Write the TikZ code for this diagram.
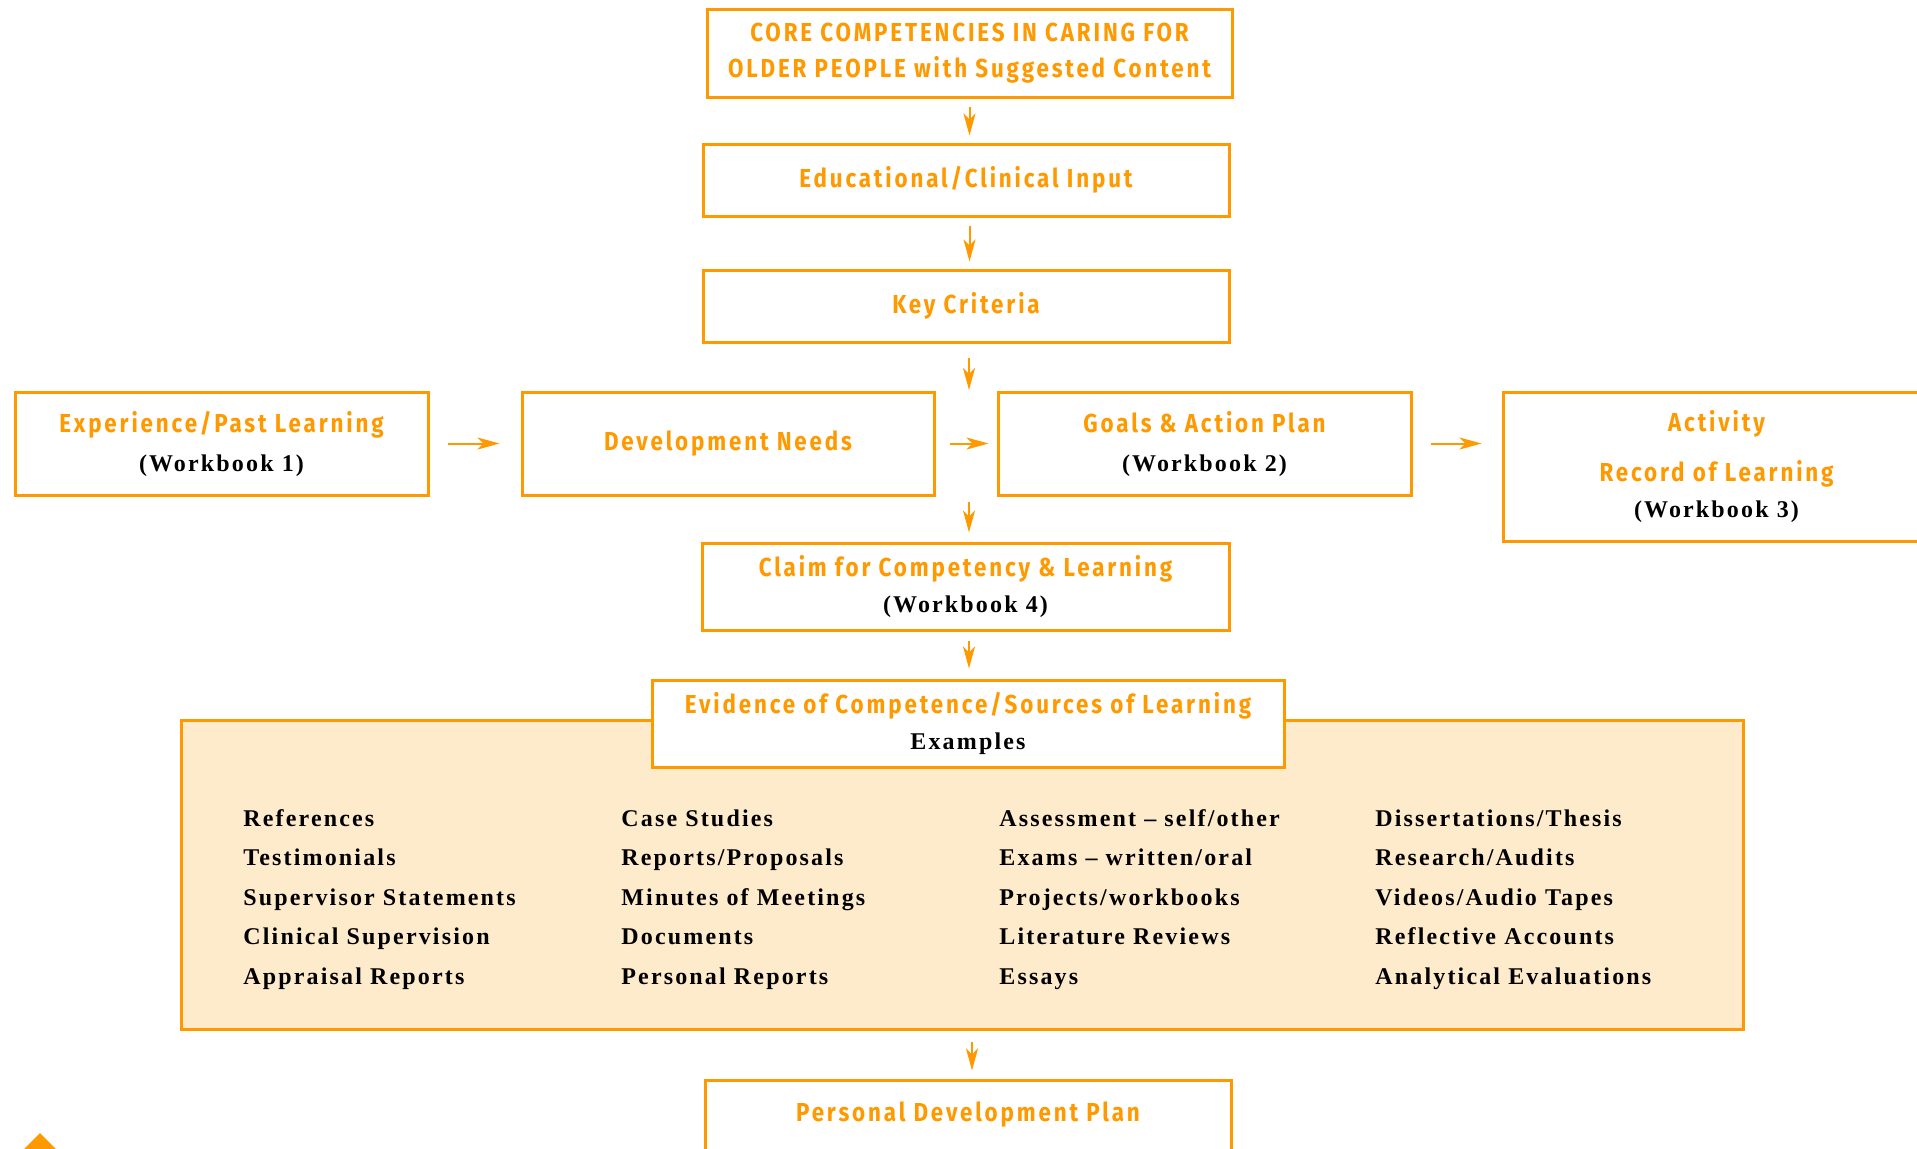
\documentclass[tikz,border=0pt]{standalone}
\usepackage{fontspec}
\usetikzlibrary{arrows.meta,positioning}
\newfontfamily\orgfont{Fira Sans}[FakeStretch=0.86,LetterSpace=11]
\newfontfamily\blkfont{Liberation Serif}[LetterSpace=9]
\definecolor{org}{RGB}{255,153,0}
\definecolor{cream}{RGB}{254,235,204}
\newcommand{\wbtext}[1]{{\blkfont\bfseries\fontsize{12}{18}\selectfont\color{black}#1}}

\begin{document}
\begin{tikzpicture}[x=0.5pt, y=-0.5pt,
                    box/.style = {draw=org, line width=1.5pt, fill=white, align=center, inner sep=0pt,
                                  text=org, font=\orgfont\bfseries\fontsize{13}{18}\selectfont},
                    items/.style = {anchor=base west, align=left, inner sep=0pt,
                                    font=\blkfont\bfseries\fontsize{12}{19.75}\selectfont},
                    flow/.style = {draw=org, line width=1pt, -{Stealth[length=11pt,width=6pt,inset=3pt]}}]
\useasboundingbox (0,0) rectangle (1917,1148);
\clip (0,0) rectangle (1917,1148);
% top column
\node[box, minimum width=262.5pt, minimum height=44pt] (core) at (969.5,53)
  {CORE COMPETENCIES IN CARING FOR\\OLDER PEOPLE with Suggested Content};
\node[box, minimum width=263pt, minimum height=36pt] (input) at (966,180) {Educational/Clinical Input};
\node[box, minimum width=263pt, minimum height=36pt] (criteria) at (966,306) {Key Criteria};
% middle row
\node[box, minimum width=206.5pt, minimum height=51.5pt] (exper) at (221.5,443.5)
  {Experience/Past Learning\\[1.5pt]\wbtext{(Workbook 1)}};
\node[box, minimum width=206pt, minimum height=51.5pt] (needs) at (728,443.5) {Development Needs};
\node[box, minimum width=206.5pt, minimum height=51.5pt] (goals) at (1204.5,443.5)
  {Goals \& Action Plan\\[1.5pt]\wbtext{(Workbook 2)}};
\node[box, minimum width=213.5pt, minimum height=74.5pt] (activity) at (1716.5,466.5)
  {Activity\\[7pt]Record of Learning\\\wbtext{(Workbook 3)}};
\coordinate (gaptop) at (969,390);
\coordinate (gapbot) at (969,502);
% lower column
\node[box, minimum width=263.5pt, minimum height=43.5pt] (claim) at (965.5,586.5)
  {Claim for Competency \& Learning\\\wbtext{(Workbook 4)}};
\node[draw=org, line width=1.5pt, fill=cream, minimum width=781pt, minimum height=154.5pt] (examples) at (962,874.5) {};
\node[box, minimum width=316pt, minimum height=43.5pt] (evid) at (968,723.5)
  {Evidence of Competence/Sources of Learning\\\wbtext{Examples}};
\node[items] (col1) at (243,984) {References\\Testimonials\\Supervisor Statements\\Clinical Supervision\\Appraisal Reports};
\node[items] (col2) at (621,984) {Case Studies\\Reports/Proposals\\Minutes of Meetings\\Documents\\Personal Reports};
\node[items] (col3) at (999,984) {Assessment – self/other\\Exams – written/oral\\Projects/workbooks\\Literature Reviews\\Essays};
\node[items] (col4) at (1375,984) {Dissertations/Thesis\\Research/Audits\\Videos/Audio Tapes\\Reflective Accounts\\Analytical Evaluations};
\node[box, minimum width=263pt, minimum height=45pt, text depth=13pt] (pdp) at (968,1125) {Personal Development Plan};
\fill[org] (40,1133) -- (70,1163) -- (40,1193) -- (10,1163) -- cycle;
% connectors
\draw[flow, shorten <=4pt, shorten >=3.5pt] (core.south) -- (core.south |- input.north);
\draw[flow, shorten <=4pt, shorten >=3.5pt] (input.south -| core.south) -- (core.south |- criteria.north);
\draw[flow, shorten <=7pt] (criteria.south -| gaptop) -- (gaptop);
\draw[flow, shorten <=9pt, shorten >=10.5pt] (exper.east) -- (needs.west);
\draw[flow, shorten <=7pt, shorten >=4pt] (needs.east) -- (goals.west);
\draw[flow, shorten <=9pt, shorten >=10pt] (goals.east) -- (goals.east -| activity.west);
\draw[flow, shorten >=4.5pt] (gapbot) -- (gapbot |- claim.north);
\draw[flow, shorten <=4.5pt, shorten >=5pt] (claim.south -| gapbot) -- (gapbot |- evid.north);
\draw[flow, shorten <=5.5pt, shorten >=4pt] (examples.south -| pdp.north) ++(4,0) coordinate (pdpin) -- (pdpin |- pdp.north);
\end{tikzpicture}
\end{document}
